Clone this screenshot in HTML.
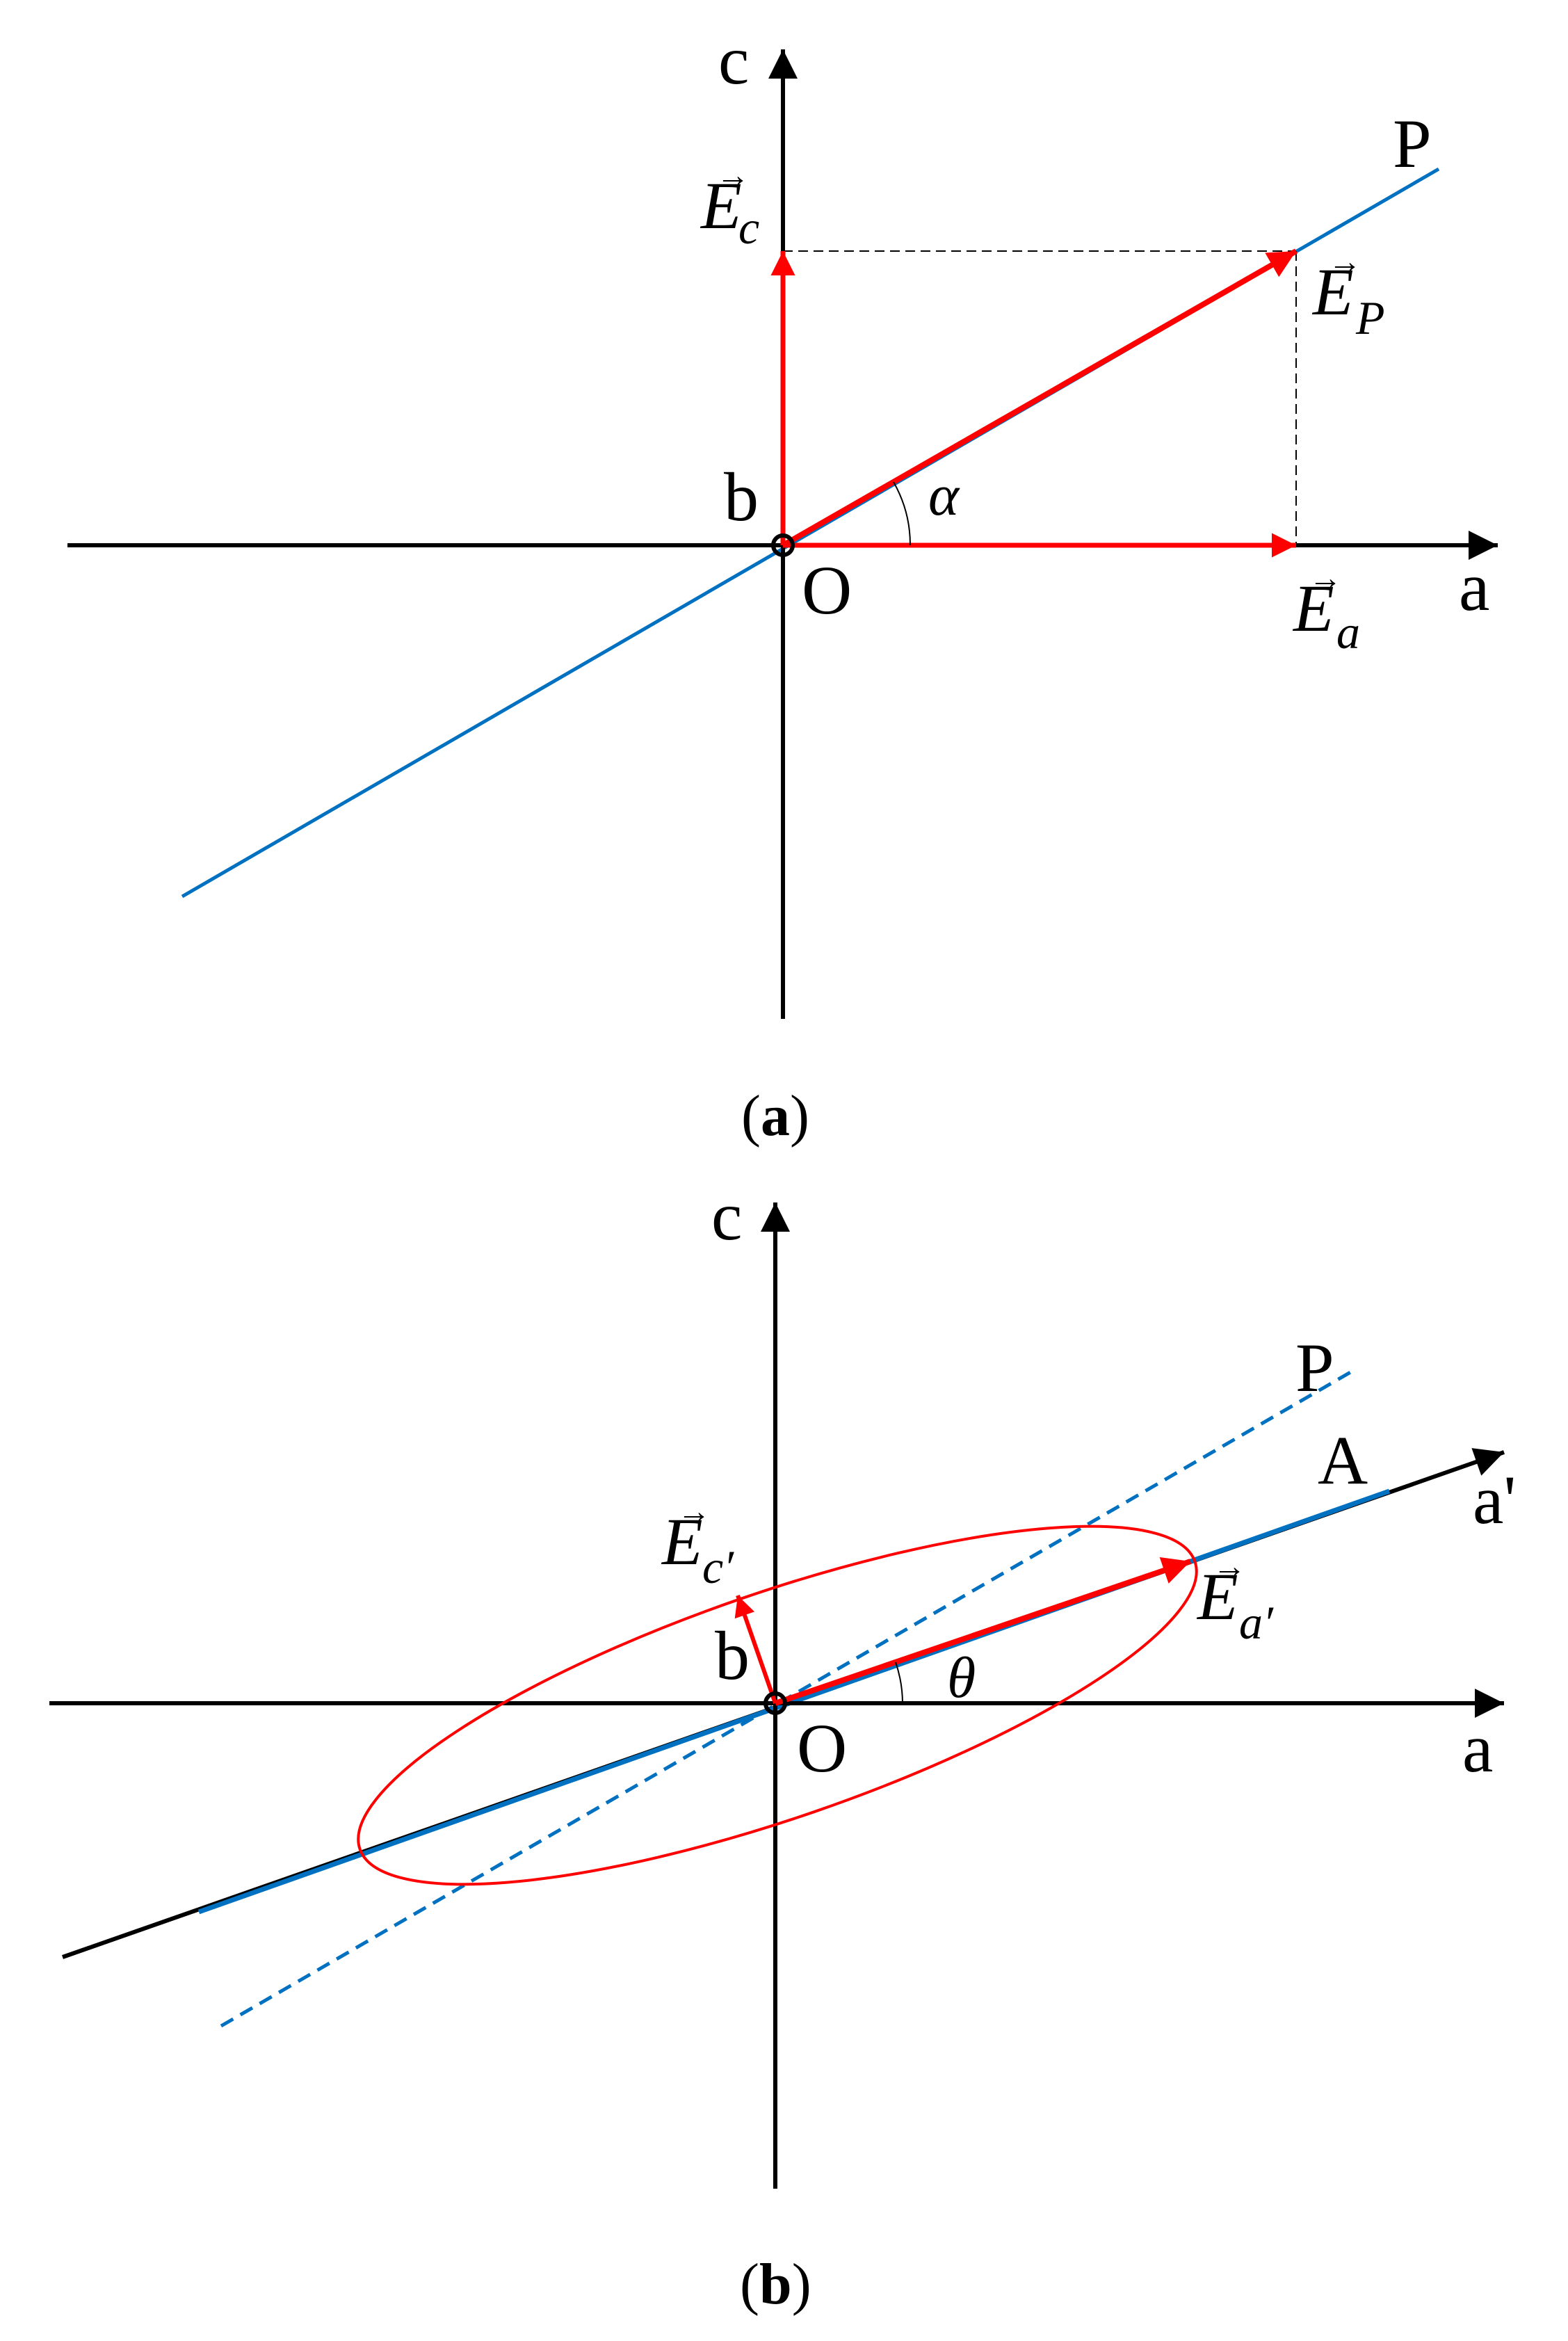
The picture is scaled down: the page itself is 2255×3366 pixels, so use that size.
<!DOCTYPE html>
<html><head><meta charset="utf-8"><style>
html,body{margin:0;padding:0;background:#fff;}
svg{display:block;}
text{font-family:"Liberation Serif",serif;fill:#000;}
.i{font-style:italic;}
</style></head><body>
<svg width="2255" height="3366" viewBox="0 0 2255 3366" xmlns="http://www.w3.org/2000/svg">
<defs>
<marker id="kb" viewBox="0 0 10 10" refX="10" refY="5" markerWidth="8" markerHeight="7" markerUnits="strokeWidth" orient="auto"><path d="M0,0 L10,5 L0,10 z" fill="#000"/></marker>
<marker id="kr" viewBox="0 0 10 10" refX="10" refY="5" markerWidth="6" markerHeight="5" markerUnits="strokeWidth" orient="auto"><path d="M0,0 L10,5 L0,10 z" fill="#f00"/></marker>
</defs>

<!-- ===== (a) ===== -->
<line x1="262" y1="1289" x2="2069" y2="243" stroke="#0070c0" stroke-width="5"/>
<line x1="97" y1="784" x2="2154" y2="784" stroke="#000" stroke-width="6" marker-end="url(#kb)"/>
<line x1="1126" y1="1465" x2="1126" y2="71" stroke="#000" stroke-width="6" marker-end="url(#kb)"/>
<line x1="1126" y1="361" x2="1864" y2="361" stroke="#000" stroke-width="2" stroke-dasharray="14,8"/>
<line x1="1864" y1="361" x2="1864" y2="784" stroke="#000" stroke-width="2" stroke-dasharray="14,8"/>
<line x1="1126" y1="784" x2="1126" y2="361" stroke="#f00" stroke-width="7" marker-end="url(#kr)"/>
<line x1="1126" y1="784" x2="1864" y2="784" stroke="#f00" stroke-width="7" marker-end="url(#kr)"/>
<line x1="1126" y1="784" x2="1864" y2="361" stroke="#f00" stroke-width="8" marker-end="url(#kr)"/>
<path d="M1309,784 A183,183 0 0 0 1285,693" fill="none" stroke="#000" stroke-width="2"/>
<circle cx="1126" cy="784" r="14" fill="none" stroke="#000" stroke-width="6"/>
<text x="1033" y="120" font-size="100">c</text>
<text x="2003" y="240" font-size="100">P</text>
<text x="1041" y="748" font-size="100">b</text>
<text x="1153" y="882" font-size="100">O</text>
<text x="2098" y="877" font-size="100">a</text>
<text x="1335" y="740" font-size="84" class="i">α</text>
<text x="1008" y="328" font-size="96" class="i">E</text><text x="1030" y="268" font-size="48">→</text><text x="1062" y="350" font-size="68" class="i">c</text>
<text x="1888" y="452" font-size="96" class="i">E</text><text x="1910" y="392" font-size="48">→</text><text x="1950" y="480" font-size="68" class="i">P</text>
<text x="1860" y="907" font-size="96" class="i">E</text><text x="1882" y="847" font-size="48">→</text><text x="1922" y="932" font-size="68" class="i">a</text>
<text x="1066" y="1632" font-size="84">(<tspan font-weight="bold">a</tspan>)</text>

<!-- ===== (b) ===== -->
<line x1="318" y1="2913" x2="1944" y2="1972" stroke="#0070c0" stroke-width="5" stroke-dasharray="20,12"/>
<line x1="90" y1="2814" x2="2163" y2="2088" stroke="#000" stroke-width="6" marker-end="url(#kb)"/>
<line x1="286" y1="2749" x2="1998" y2="2144" stroke="#0070c0" stroke-width="7"/>
<line x1="71" y1="2449" x2="2163" y2="2449" stroke="#000" stroke-width="6" marker-end="url(#kb)"/>
<line x1="1115" y1="3147" x2="1115" y2="1729" stroke="#000" stroke-width="6" marker-end="url(#kb)"/>
<ellipse cx="1118" cy="2452" rx="635" ry="162" transform="rotate(-19 1118 2452)" fill="none" stroke="#f00" stroke-width="4"/>
<line x1="1115" y1="2449" x2="1712" y2="2245" stroke="#f00" stroke-width="8" marker-end="url(#kr)"/>
<line x1="1115" y1="2449" x2="1061" y2="2294" stroke="#f00" stroke-width="6" marker-end="url(#kr)"/>
<path d="M1298,2449 A183,183 0 0 0 1288,2390" fill="none" stroke="#000" stroke-width="2"/>
<circle cx="1115" cy="2449" r="14" fill="none" stroke="#000" stroke-width="6"/>
<text x="1023" y="1782" font-size="100">c</text>
<text x="1863" y="2000" font-size="100">P</text>
<text x="1895" y="2133" font-size="100">A</text>
<text x="2118" y="2190" font-size="100">a'</text>
<text x="1028" y="2414" font-size="100">b</text>
<text x="1146" y="2547" font-size="100">O</text>
<text x="2103" y="2547" font-size="100">a</text>
<text x="1362" y="2440" font-size="84" class="i">θ</text>
<text x="952" y="2249" font-size="96" class="i">E</text><text x="974" y="2189" font-size="48">→</text><text x="1010" y="2276" font-size="68" class="i">c′</text>
<text x="1722" y="2328" font-size="96" class="i">E</text><text x="1744" y="2268" font-size="48">→</text><text x="1782" y="2356" font-size="68" class="i">a′</text>
<text x="1064" y="3312" font-size="84">(<tspan font-weight="bold">b</tspan>)</text>
</svg>
</body></html>
